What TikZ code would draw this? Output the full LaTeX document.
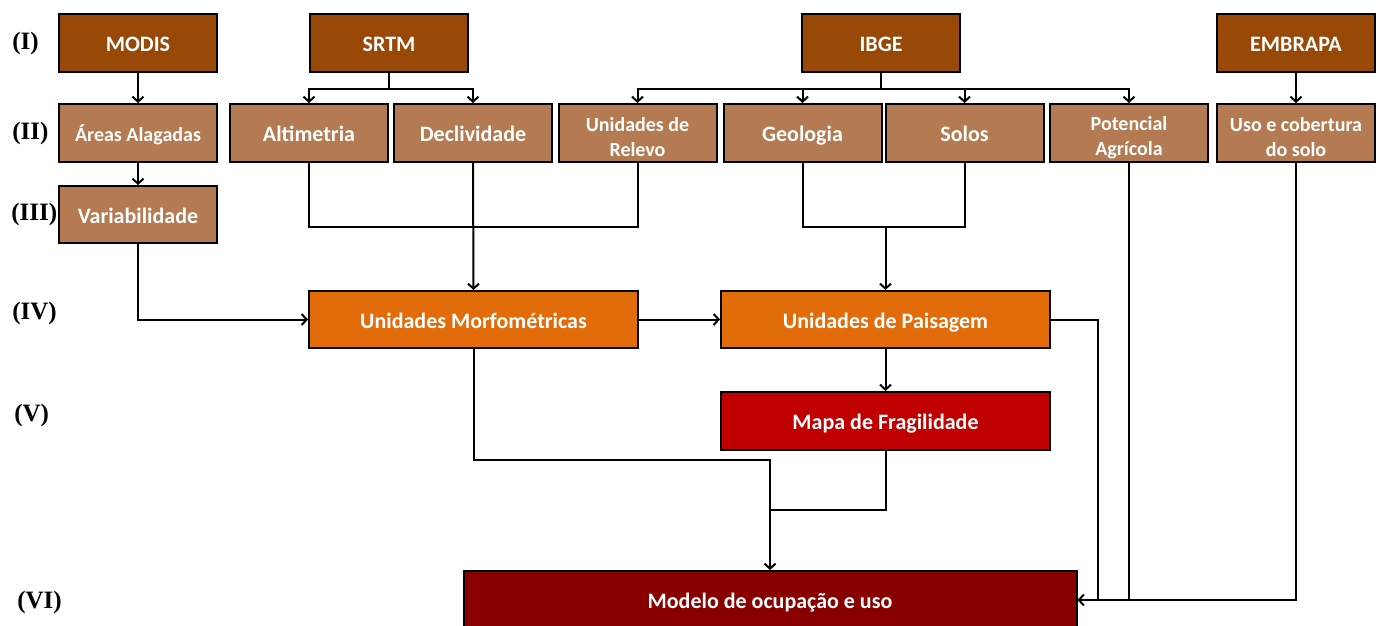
\documentclass[tikz,border=0pt]{standalone}
\usepackage{fontspec}
\setmainfont{Carlito}
\newfontfamily\romfont{Liberation Serif}
\usetikzlibrary{arrows.meta,positioning}

\definecolor{fonte}{RGB}{152,72,7}
\definecolor{dado}{RGB}{180,122,82}
\definecolor{unid}{RGB}{227,108,10}
\definecolor{frag}{RGB}{192,0,0}
\definecolor{model}{RGB}{136,0,0}

\newcommand{\sobe}{\rule{0pt}{23pt}}

\tikzset{
  box/.style={draw,line width=2pt,text=white,align=center,inner sep=2pt,
    font=\bfseries\fontsize{22}{26}\selectfont,minimum width=158pt,minimum height=58pt,
    text height=20pt,text depth=2.4pt},
  small/.style={font=\bfseries\fontsize{20}{25}\selectfont},
  two/.style={small,text height=,text depth=},
  wide/.style={minimum width=329pt,minimum height=57pt},
  lab/.style={anchor=west,font=\romfont\bfseries\fontsize{25}{28}\selectfont}
}

\begin{document}
\begin{tikzpicture}[x=1pt,y=-1pt,line width=2pt,>={Straight Barb[length=5pt,width=11pt]}]
\useasboundingbox (0,0) rectangle (1379,625);

% niveis
\node[lab] (n1) at (8,43) {(I)};
\node[lab] (n2) at (8,133) {(II)};
\node[lab] (n3) at (7,214) {(III)};
\node[lab] (n4) at (8,313) {(IV)};
\node[lab] (n5) at (10,415) {(V)};
\node[lab] (n6) at (13,602) {(VI)};

% fontes
\node[box,fill=fonte] (modis) at (138,43) {MODIS};
\node[box,fill=fonte] (srtm) at (389,43) {SRTM};
\node[box,fill=fonte] (ibge) at (881,43) {IBGE};
\node[box,fill=fonte] (embrapa) at (1296,43) {EMBRAPA};

% dados
\node[box,small,fill=dado] (areas) at (138,133) {Áreas Alagadas};
\node[box,fill=dado] (alt) at (309,133) {Altimetria};
\node[box,fill=dado] (decl) at (473,133) {Declividade};
\node[box,two,fill=dado] (relevo) at (637.5,133) {\sobe Unidades de\\Relevo};
\node[box,fill=dado] (geo) at (802.5,133) {Geologia};
\node[box,fill=dado] (solos) at (964.5,133) {Solos};
\node[box,two,fill=dado] (pot) at (1129,133) {\sobe Potencial\\Agrícola};
\node[box,two,fill=dado] (uso) at (1296,133) {\sobe Uso e cobertura\\do solo};
\node[box,fill=dado,minimum height=57pt] (var) at (138,214.5) {Variabilidade};

% unidades
\node[box,wide,fill=unid] (morf) at (473.5,319.5) {Unidades Morfométricas};
\node[box,wide,fill=unid] (pais) at (885.5,319.5) {Unidades de Paisagem};
\node[box,wide,fill=frag,minimum height=58pt] (mapa) at (885.5,421) {Mapa de Fragilidade};
\node[box,fill=model,minimum width=613pt,minimum height=58pt] (modelo) at (770,600) {Modelo de ocupação e uso};

\draw[->] (modis) -- (areas);
\draw[->] (areas) -- (var);
\draw[->] (embrapa) -- (uso);

\draw (srtm.south) -- ++(0,16) coordinate (sb);
\draw[->] (sb) -| (alt.north);
\draw[->] (sb) -| (decl.north);

\draw (ibge.south) -- ++(0,16) coordinate (ib);
\foreach \n in {relevo,geo,solos,pot}
  \draw[->] (ib) -| (\n.north);

\coordinate (mj) at (473,227);
\draw (alt.south) |- (mj) -| (relevo.south);
\draw[->] (decl.south) -- (morf.north);

\coordinate (pj) at (885.5,227);
\draw (geo.south) |- (pj) -| (solos.south);
\draw[->] (pj) -- (pais.north);

\draw[->] (var.south) |- (morf.west);
\draw[->] (morf) -- (pais);
\draw[->] (pais) -- (mapa);

\coordinate (ma) at (770,460);
\coordinate (mb) at (770,510);
\draw[->] (morf.south) |- (ma) -- (modelo.north);
\draw (mapa.south) |- (mb);

\coordinate (rj) at (1098,600);
\draw[->] (pais.east) -| (rj) -- (modelo.east);
\draw (pot.south) -- (pot.south |- rj);
\draw (uso.south) |- (rj);
\end{tikzpicture}
\end{document}
